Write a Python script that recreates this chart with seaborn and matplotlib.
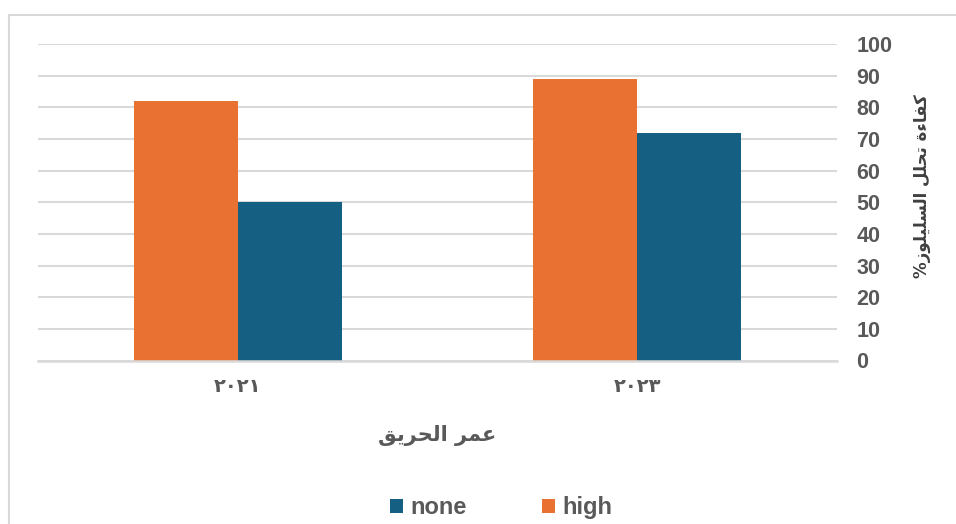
import matplotlib
matplotlib.use("Agg")
import matplotlib.pyplot as plt
from matplotlib.patches import Rectangle, Patch
import seaborn as sns
import pandas as pd

# ---- data ----
years = ["٢٠٢١", "٢٠٢٣"]
high = [82, 89]
none = [50, 72]
y_ticks = [0, 10, 20, 30, 40, 50, 60, 70, 80, 90, 100]
x_title = "عمر الحريق"
y_title = "كفاءة تحلل السليلوز%"
series_names = ["high", "none"]
legend_order = ["none", "high"]

ORANGE = "#E97132"
BLUE = "#156082"
GRID = "#D9D9D9"
TXT = "#595959"

# ---- minimal Arabic shaping (contextual forms + RTL order) ----
DUAL = set("بتثجحخسشصضطظعغفقكلمنهيئ")
RIGHT = set("اأإآدذرزوةؤ")
FORMS = {
    'ا': (0xFE8D, 0xFE8E, None, None),
    'ء': (0xFE80, None, None, None),
    'ة': (0xFE93, 0xFE94, None, None),
    'ت': (0xFE95, 0xFE96, 0xFE97, 0xFE98),
    'ح': (0xFEA1, 0xFEA2, 0xFEA3, 0xFEA4),
    'ر': (0xFEAD, 0xFEAE, None, None),
    'ز': (0xFEAF, 0xFEB0, None, None),
    'س': (0xFEB1, 0xFEB2, 0xFEB3, 0xFEB4),
    'ع': (0xFEC9, 0xFECA, 0xFECB, 0xFECC),
    'ف': (0xFED1, 0xFED2, 0xFED3, 0xFED4),
    'ق': (0xFED5, 0xFED6, 0xFED7, 0xFED8),
    'ك': (0xFED9, 0xFEDA, 0xFEDB, 0xFEDC),
    'ل': (0xFEDD, 0xFEDE, 0xFEDF, 0xFEE0),
    'م': (0xFEE1, 0xFEE2, 0xFEE3, 0xFEE4),
    'و': (0xFEED, 0xFEEE, None, None),
    'ي': (0xFEF1, 0xFEF2, 0xFEF3, 0xFEF4),
}


def shape(s):
    out = []
    for i, c in enumerate(s):
        if c not in FORMS:
            out.append(c)
            continue
        prev = s[i - 1] if i > 0 else ''
        nxt = s[i + 1] if i + 1 < len(s) else ''
        jp = prev in DUAL and (c in DUAL or c in RIGHT)
        jn = c in DUAL and (nxt in DUAL or nxt in RIGHT)
        iso, fin, ini, med = FORMS[c]
        if jp and jn and med:
            g = med
        elif jp and fin:
            g = fin
        elif jn and ini:
            g = ini
        else:
            g = iso
        out.append(chr(g))
    return ''.join(reversed(out))


sns.set_theme(style="white")
plt.rcParams['font.family'] = ['Liberation Sans', 'DejaVu Sans']

rows = []
for name, vals in zip(series_names, [high, none]):
    for yr, v in zip(years, vals):
        rows.append({"year": yr, "value": v, "series": name})
df = pd.DataFrame(rows)

fig = plt.figure(figsize=(9.56, 5.24), dpi=100)
ax = fig.add_axes([38 / 956, 1 - 360.5 / 524, 799 / 956, 316.5 / 524])

sns.barplot(data=df, x="year", y="value", hue="series", order=years,
            hue_order=series_names, palette=[ORANGE, BLUE], width=0.52,
            gap=0, linewidth=0, saturation=1, legend=False, ax=ax)

ax.set_xlim(-0.5, 1.5)
ax.set_ylim(0, 100)
ax.set_yticks(y_ticks)
ax.yaxis.tick_right()
ax.yaxis.set_label_position("right")
ax.yaxis.grid(True, color=GRID, lw=1.5)
ax.set_axisbelow(True)
for s in ["top", "left", "right"]:
    ax.spines[s].set_visible(False)
ax.spines["bottom"].set_color(GRID)
ax.spines["bottom"].set_linewidth(1.8)
ax.tick_params(axis="both", length=0)
ax.tick_params(axis="y", pad=14, labelsize=15.5, labelcolor=TXT)
ax.tick_params(axis="x", pad=12, labelsize=14, labelcolor=TXT)
for lab in ax.get_yticklabels():
    lab.set_fontweight("bold")
for lab in ax.get_xticklabels():
    lab.set_fontfamily(["DejaVu Sans"])
    lab.set_fontweight("bold")

ax.set_xlabel(shape(x_title), fontsize=15, fontweight="bold", color=TXT,
              fontfamily=["DejaVu Sans"])
ax.xaxis.set_label_coords(0.5, -0.204)
ax.set_ylabel(shape(y_title), fontsize=12, fontweight="bold", color="#404040",
              fontfamily=["DejaVu Sans"], rotation=90, va="center")
ax.yaxis.set_label_coords(1.106, 0.551)

colors = {"high": ORANGE, "none": BLUE}
handles = [Patch(facecolor=colors[n], edgecolor="none") for n in legend_order]
leg = fig.legend(handles, legend_order, loc="center", ncol=2,
                 bbox_to_anchor=(0.524, 0.031), frameon=False,
                 prop={"size": 17, "weight": "bold"}, handlelength=0.55,
                 handleheight=0.55, handletextpad=0.3, columnspacing=3.2)
for t in leg.get_texts():
    t.set_color(TXT)

fig.add_artist(Rectangle((8.5 / 956, -0.1), 1.2, 1 - 15 / 524 + 0.1,
                         transform=fig.transFigure, fill=False,
                         edgecolor=GRID, lw=1.5, clip_on=False))

fig.savefig("out.png", dpi=100)
